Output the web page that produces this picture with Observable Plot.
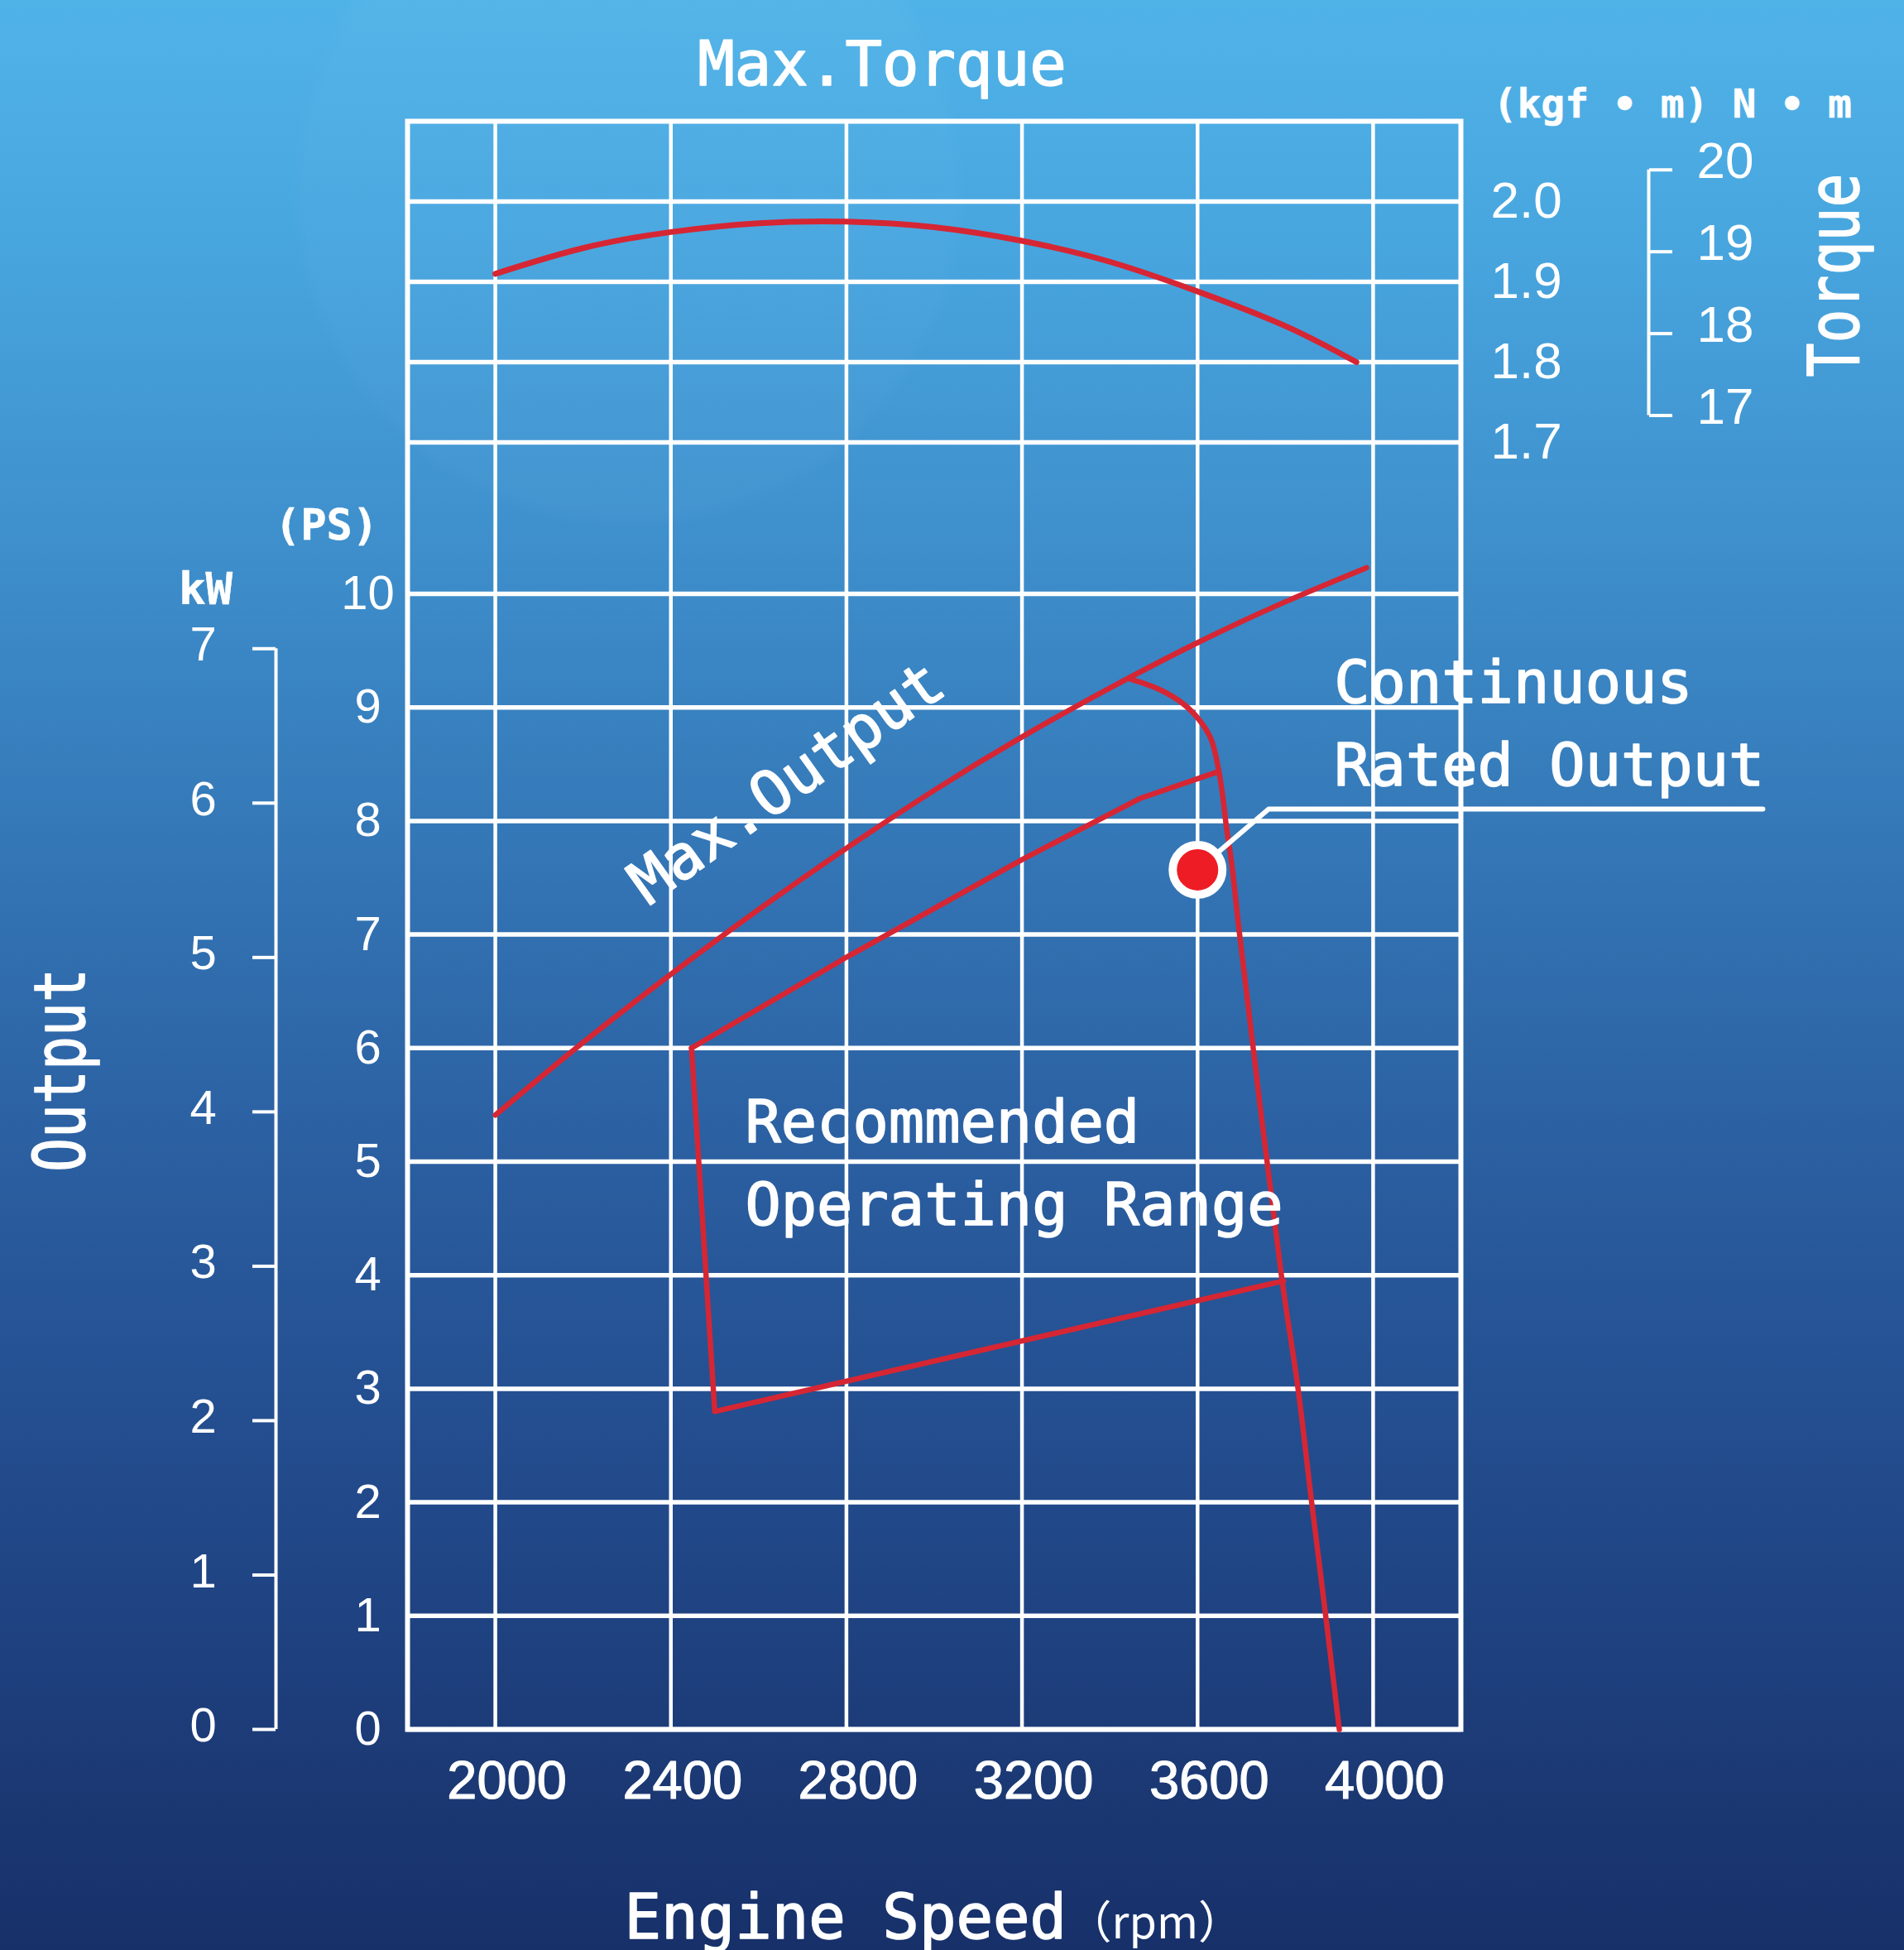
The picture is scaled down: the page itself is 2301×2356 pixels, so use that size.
<!DOCTYPE html>
<html>
<head>
<meta charset="utf-8">
<script src="https://cdn.jsdelivr.net/npm/d3@7"></script>
<script src="https://cdn.jsdelivr.net/npm/@observablehq/plot@0.6"></script>
<style>
html, body { margin: 0; padding: 0; width: 2301px; height: 2356px; overflow: hidden; }
body {
  background:
    radial-gradient(circle at 760px 230px, rgba(255,255,255,0.025) 0, rgba(255,255,255,0.025) 390px, rgba(255,255,255,0) 410px),
    linear-gradient(to bottom, #50b3e8 0%, #48a6df 12%, #3e8fcc 28%, #3374b4 45%, #295b9d 62%, #214889 78%, #1b3873 92%, #17306a 100%);
}
#chart svg { display: block; }
</style>
</head>
<body>
<div id="chart"></div>
<script>
// ---------- data ----------
const rpmTicks = [2000, 2400, 2800, 3200, 3600, 4000];
const psTicks = [0, 1, 2, 3, 4, 5, 6, 7, 8, 9, 10];
const kwTicks = [0, 1, 2, 3, 4, 5, 6, 7];
const torqueKgfTicks = [1.7, 1.8, 1.9, 2.0];
const torqueNmTicks = [17, 18, 19, 20];

// Max. torque (kgf·m)
const torqueRpm = [2000, 2200, 2400, 2600, 2800, 3000, 3200, 3400, 3600, 3800, 3962];
const torqueKgf = [1.910, 1.942, 1.962, 1.973, 1.975, 1.968, 1.951, 1.925, 1.888, 1.845, 1.800];

// Max. output (PS)
const maxOutRpm = [2000, 2200, 2400, 2600, 2800, 3000, 3200, 3400, 3600, 3800, 3985];
const maxOutPs  = [5.41, 6.05, 6.65, 7.22, 7.76, 8.27, 8.74, 9.17, 9.57, 9.93, 10.23];

// Governor (speed-droop) curve (PS)
const govRpm = [3446, 3512, 3568, 3606, 3631, 3647, 3657, 3666, 3678, 3694, 3791, 3829, 3860, 3892, 3923];
const govPs  = [9.25, 9.16, 9.03, 8.88, 8.72, 8.47, 8.23, 7.94, 7.62, 7.06, 4.00, 3.00, 2.00, 1.00, 0.00];

// Continuous rated output (PS)
const contRpm = [2447, 2800, 3200, 3470, 3644];
const contPs  = [6.00, 6.80, 7.66, 8.20, 8.43];

// Recommended operating range (left + bottom edges, PS)
const rangeRpm = [2447, 2500, 3796];
const rangePs  = [6.00, 2.80, 3.95];

// Continuous rated point and its call-out
const ratedRpm = [3600];
const ratedPs  = [7.57];
const leaderRpm = [3600, 3762, 4888];
const leaderPs  = [7.57, 8.105, 8.105];

const labels = {
  title: "Max.Torque",
  torqueUnits: "(kgf • m) N • m",
  torque: "Torque",
  output: "Output",
  ps: "(PS)",
  kw: "kW",
  xTitle: "Engine Speed",
  xUnit: "（rpm）",
  maxOut: "Max.Output",
  cont1: "Continuous",
  cont2: "Rated Output",
  rec1: "Recommended",
  rec2: "Operating Range"
};

// ---------- scale helpers ----------
const PS_PER_KW = 1.3596;
const NM_PER_KGF = 9.80665;
const TOR_BASE = 11.334, TOR_PER_KGF = 7.07;   // torque panel stacked above the PS panel
const tor = t => TOR_BASE + (t - 1.7) * TOR_PER_KGF;
const torInv = y => 1.7 + (y - TOR_BASE) / TOR_PER_KGF;
const X0 = 1800, X1 = 4200;
const TOP = tor(2.1);
const zip = (xs, ys) => xs.map((x, i) => ({x, y: ys[i]}));

const RED = "#d62634";
const MONO = "DejaVu Sans Mono";
const SANS = "Liberation Sans";
const txt = {fill: "white", stroke: "white", strokeWidth: 1.6, fontFamily: MONO, lineAnchor: "middle"};
const num = {fill: "white", stroke: "white", strokeWidth: 1.2, fontFamily: SANS};

const chart = Plot.plot({
  width: 2301,
  height: 2356,
  marginTop: 146,
  marginBottom: 267,
  marginLeft: 492,
  marginRight: 536,
  x: {domain: [X0, X1], axis: null},
  y: {domain: [0, TOP], axis: null},
  style: {background: "transparent", color: "white", overflow: "visible"},
  marks: [
    // grid
    Plot.ruleY([...psTicks, ...torqueKgfTicks.map(tor)], {x1: X0, x2: X1, stroke: "white", strokeWidth: 5.5}),
    Plot.ruleX(rpmTicks, {y1: 0, y2: TOP, stroke: "white", strokeWidth: 4.5}),
    Plot.frame({stroke: "white", strokeWidth: 6}),

    // x tick labels
    Plot.text(rpmTicks, {x: d => d, y: 0, dy: 63, dx: 14, text: d => String(d), fontSize: 65, lineAnchor: "middle", ...num}),

    // PS axis labels
    Plot.axisY(psTicks, {anchor: "left", tickSize: 0, tickPadding: 48, textAnchor: "middle", fontSize: 58, ...num, label: null, tickFormat: d => String(d)}),
    // kW axis
    Plot.ruleX([X0], {y1: 0, y2: 7 * PS_PER_KW, dx: -159, stroke: "white", strokeWidth: 4}),
    Plot.axisY(kwTicks.map(k => k * PS_PER_KW), {anchor: "left", dx: -159, tickSize: 28, stroke: "white", strokeWidth: 4, fill: "none", label: null}),
    Plot.axisY(kwTicks.map(k => k * PS_PER_KW), {anchor: "left", dx: -159, dy: -4, tickSize: 0, tickPadding: 88, textAnchor: "middle", fontSize: 58, ...num, label: null, tickFormat: d => String(Math.round(d / PS_PER_KW))}),

    // torque kgf·m labels
    Plot.axisY(torqueKgfTicks.map(tor), {anchor: "right", tickSize: 0, tickPadding: 36, textAnchor: "start", fontSize: 62, ...num, label: null, tickFormat: d => torInv(d).toFixed(1)}),
    // torque N·m bracket axis
    Plot.ruleX([X1], {y1: tor(torqueNmTicks[0] / NM_PER_KGF), y2: tor(torqueNmTicks[torqueNmTicks.length - 1] / NM_PER_KGF), dx: 227, stroke: "white", strokeWidth: 4}),
    Plot.axisY(torqueNmTicks.map(n => tor(n / NM_PER_KGF)), {anchor: "right", dx: 227, tickSize: 28, stroke: "white", strokeWidth: 4, fill: "none", label: null}),
    Plot.axisY(torqueNmTicks.map(n => tor(n / NM_PER_KGF)), {anchor: "right", dx: 227, dy: -10, tickSize: 0, tickPadding: 58, textAnchor: "start", fontSize: 62, ...num, label: null, tickFormat: d => String(Math.round(torInv(d) * NM_PER_KGF))}),

    // curves
    Plot.line(zip(torqueRpm, torqueKgf.map(tor)), {x: "x", y: "y", stroke: RED, strokeWidth: 7, curve: "natural"}),
    Plot.line(zip(maxOutRpm, maxOutPs), {x: "x", y: "y", stroke: RED, strokeWidth: 6.5, curve: "natural"}),
    Plot.line(zip(govRpm, govPs), {x: "x", y: "y", stroke: RED, strokeWidth: 6.5, curve: "catmull-rom"}),
    Plot.line(zip(contRpm, contPs), {x: "x", y: "y", stroke: RED, strokeWidth: 6.5, curve: "linear"}),
    Plot.line(zip(rangeRpm, rangePs), {x: "x", y: "y", stroke: RED, strokeWidth: 6.5, curve: "linear"}),

    // rated point call-out
    Plot.line(zip(leaderRpm, leaderPs), {x: "x", y: "y", stroke: "white", strokeWidth: 6}),
    Plot.dot(zip(ratedRpm, ratedPs), {x: "x", y: "y", r: 30, fill: "#ee1c25", stroke: "white", strokeWidth: 10}),

    // in-plot labels
    Plot.text([labels.maxOut], {x: 2665, y: 8.33, text: d => d, rotate: -35.5, fontSize: 74, textAnchor: "middle", ...txt}),
    Plot.text([labels.cont1], {x: 3911, y: 9.21, text: d => d, textAnchor: "start", fontSize: 72, ...txt}),
    Plot.text([labels.cont2], {x: 3911, y: 8.48, text: d => d, textAnchor: "start", fontSize: 72, ...txt}),
    Plot.text([labels.rec1], {x: 2569, y: 5.34, text: d => d, textAnchor: "start", fontSize: 72, ...txt}),
    Plot.text([labels.rec2], {x: 2569, y: 4.61, text: d => d, textAnchor: "start", fontSize: 72, ...txt}),

    // outer labels
    Plot.text([labels.title], {frameAnchor: "top", dx: -63, dy: -67, text: d => d, textAnchor: "middle", fontSize: 74, ...txt}),
    Plot.text([labels.torqueUnits], {frameAnchor: "top-right", dx: 39, dy: -20, text: d => d, textAnchor: "start", fontSize: 48, fontWeight: "bold", ...txt, strokeWidth: 0.5}),
    Plot.text([labels.torque], {frameAnchor: "top-right", dx: 453, dy: 186, text: d => d, rotate: -90, textAnchor: "middle", fontSize: 86, ...txt}),
    Plot.text([labels.output], {frameAnchor: "left", dx: -418, dy: 175, text: d => d, rotate: -90, textAnchor: "middle", fontSize: 86, ...txt}),
    Plot.text([labels.ps], {frameAnchor: "top-left", dx: -98, dy: 489, text: d => d, textAnchor: "middle", fontSize: 52, fontWeight: "bold", ...txt, strokeWidth: 0.5}),
    Plot.text([labels.kw], {frameAnchor: "top-left", dx: -244, dy: 566, text: d => d, textAnchor: "middle", fontSize: 54, fontWeight: "bold", ...txt, strokeWidth: 0.5}),
    Plot.text([labels.xTitle], {frameAnchor: "bottom-left", dx: 262, dy: 229, text: d => d, textAnchor: "start", fontSize: 74, ...txt}),
    Plot.text([labels.xUnit], {frameAnchor: "bottom-left", dx: 797, dy: 235, text: d => d, textAnchor: "start", fontSize: 54, fill: "white", fontFamily: "Noto Sans CJK SC", lineAnchor: "middle"})
  ]
});

document.getElementById("chart").appendChild(chart);

// condensed glyphs for the rotated axis titles
d3.select(chart).selectAll("text").each(function() {
  const t = this.textContent;
  if (t === labels.output || t === labels.torque) {
    d3.select(this).attr("textLength", 246).attr("lengthAdjust", "spacingAndGlyphs");
  }
});
</script>
</body>
</html>
